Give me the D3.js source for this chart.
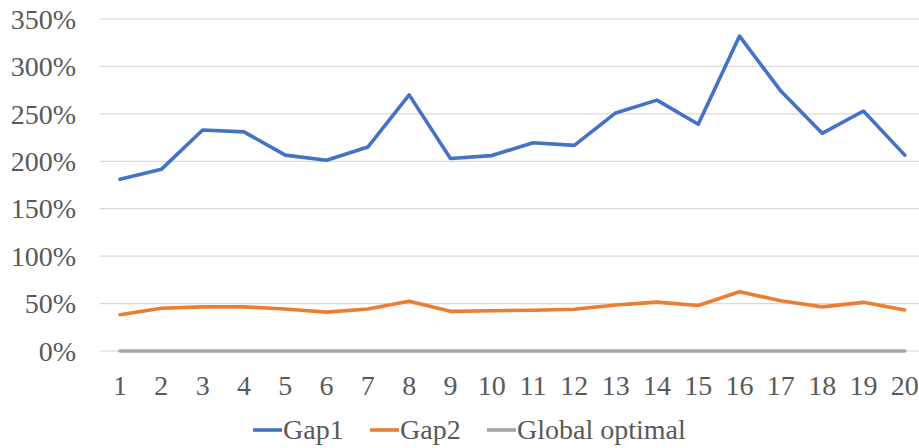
<!DOCTYPE html>
<html><head><meta charset="utf-8">
<script src="https://cdn.jsdelivr.net/npm/d3@7"></script>
<style>html,body{margin:0;padding:0;background:#fff;overflow:hidden}</style>
</head><body>
<svg id="c" width="919" height="448"></svg>
<script>
const categories = ["1","2","3","4","5","6","7","8","9","10","11","12","13","14","15","16","17","18","19","20"];
const gap1 = [1.81,1.915,2.33,2.31,2.065,2.01,2.15,2.70,2.03,2.06,2.195,2.168,2.51,2.645,2.39,3.32,2.74,2.295,2.53,2.065];
const gap2 = [0.383,0.45,0.465,0.465,0.443,0.41,0.443,0.524,0.418,0.425,0.43,0.44,0.485,0.515,0.48,0.625,0.53,0.465,0.513,0.432];
const globalOpt = [0,0,0,0,0,0,0,0,0,0,0,0,0,0,0,0,0,0,0,0];
const yTicks = [0,0.5,1,1.5,2,2.5,3,3.5];
const seriesNames = ["Gap1","Gap2","Global optimal"];
const colors = ["#4472C4","#ED7D31","#A5A5A5"];

const svg = d3.select("#c");
const font = "'Liberation Serif'";
const fontSize = "28px";
const textColor = "#595959";
const x = d3.scaleBand().domain(categories).range([99.4, 925.4]).padding(0);
const y = d3.scaleLinear().domain([0, 3.5]).range([351, 19]);
const cx = d => x(d) + x.bandwidth()/2;

// gridlines
svg.append("g").selectAll("line").data(yTicks).join("line")
  .attr("x1", 99.4).attr("x2", 925.4)
  .attr("y1", d => y(d)).attr("y2", d => y(d))
  .attr("stroke", "#D9D9D9").attr("stroke-width", 1.2);

// y axis labels
const yAxis = d3.axisLeft(y).tickValues(yTicks).tickFormat(d3.format(".0%")).tickSize(0).tickPadding(0);
const yg = svg.append("g").attr("transform", "translate(76,0)").call(yAxis);
yg.select(".domain").remove();
yg.attr("font-family", null).attr("font-size", null);
yg.selectAll("text").style("font-family", font).style("font-size", fontSize).attr("fill", textColor).attr("dy", "0.33em");

// x axis labels
const xAxis = d3.axisBottom(x).tickSize(0).tickPadding(0);
const xg = svg.append("g").attr("transform", "translate(0,375)").call(xAxis);
xg.select(".domain").remove();
xg.attr("font-family", null).attr("font-size", null);
xg.selectAll("text").style("font-family", font).style("font-size", fontSize).attr("fill", textColor).attr("dy", "0.71em");

// lines
const series = [gap1, gap2, globalOpt];
const line = d3.line().x((d,i) => cx(categories[i])).y(d => y(d));
[2,1,0].forEach(k => {
  svg.append("path").datum(series[k]).attr("d", line)
    .attr("fill", "none").attr("stroke", colors[k])
    .attr("stroke-width", 3.6).attr("stroke-linejoin", "round").attr("stroke-linecap", "round");
});

// legend
const legendX = [253, 370, 487];
const lg = svg.append("g");
seriesNames.forEach((n, i) => {
  lg.append("line").attr("x1", legendX[i]).attr("x2", legendX[i] + 29)
    .attr("y1", 430).attr("y2", 430).attr("stroke", colors[i]).attr("stroke-width", 3.6);
  lg.append("text").attr("x", legendX[i] + 30).attr("y", 438.5)
    .style("font-family", font).style("font-size", fontSize).attr("fill", textColor).text(n);
});
</script>
</body></html>
